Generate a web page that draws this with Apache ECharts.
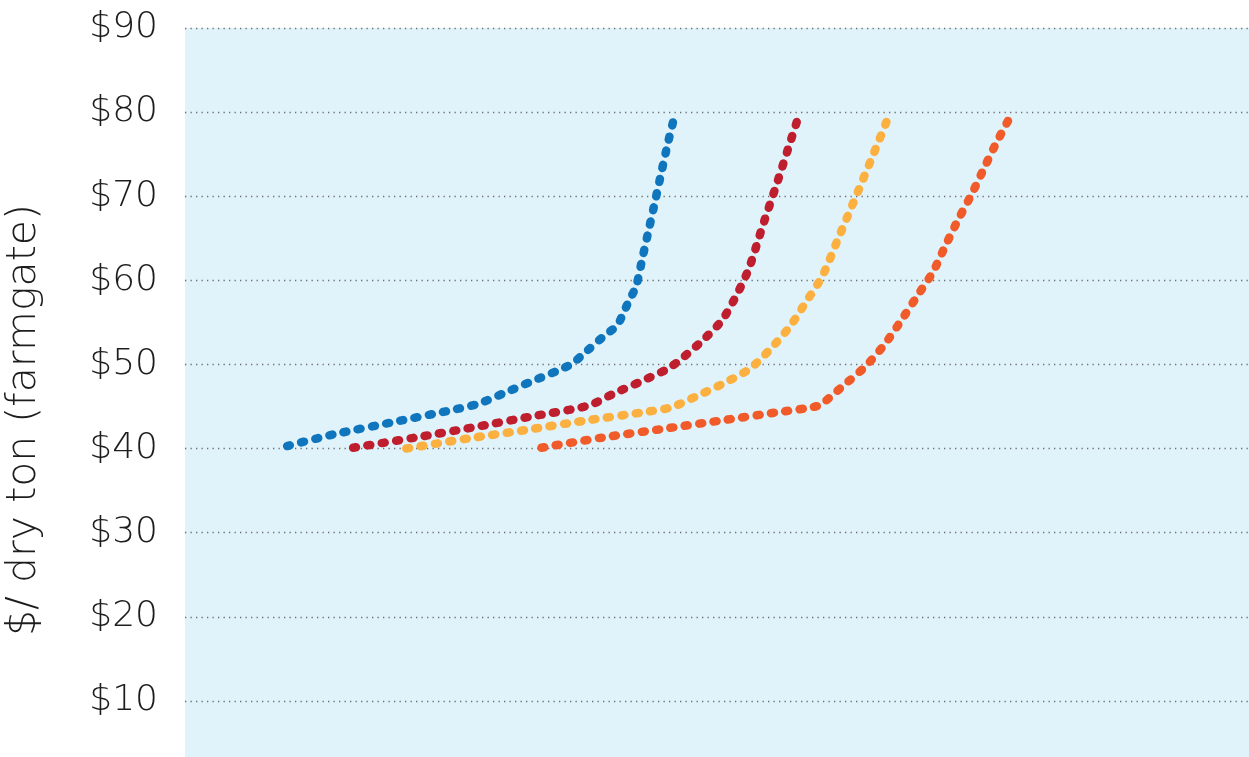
<!DOCTYPE html>
<html>
<head>
<meta charset="utf-8">
<script src="https://cdn.jsdelivr.net/npm/echarts@6/dist/echarts.min.js"></script>
<style>
  html, body { margin: 0; padding: 0; background: #ffffff; }
  #chart { width: 1249px; height: 757px; }
</style>
</head>
<body>
<div id="chart"></div>
<script>
// Supply curves: [quantity (arbitrary units, unlabelled), $/dry ton]
const blueCurve = [
  [9.6, 40.3], [14.0, 41.7], [19.4, 43.1], [24.8, 44.5], [27.5, 45.3], [30.0, 46.6],
  [32.6, 48.0], [35.1, 49.3], [36.4, 50.1], [37.4, 51.2], [39.5, 53.5], [40.6, 54.6],
  [41.2, 56.1], [41.7, 57.5], [42.4, 59.3], [43.0, 62.7], [43.6, 66.1], [44.2, 69.5],
  [44.8, 73.0], [45.4, 76.4], [46.1, 80.0]
];
const redCurve = [
  [15.8, 40.1], [21.6, 41.3], [27.0, 42.5], [32.5, 43.8], [37.9, 45.1], [40.4, 46.6],
  [42.9, 48.0], [45.4, 49.5], [46.5, 50.5], [48.6, 52.8], [50.5, 55.3], [51.9, 58.4],
  [53.0, 61.4], [54.3, 66.5], [55.6, 71.4], [56.9, 76.5], [57.8, 80.0]
];
const yellowCurve = [
  [20.8, 40.0], [26.6, 41.2], [32.0, 42.2], [37.5, 43.3], [43.0, 44.3], [45.7, 44.9],
  [48.2, 46.3], [50.7, 47.8], [53.1, 49.5], [55.0, 51.8], [56.9, 54.6], [58.4, 57.5],
  [59.9, 60.5], [61.5, 65.3], [63.1, 70.1], [64.7, 75.0], [66.3, 80.0]
];
const orangeCurve = [
  [33.5, 40.1], [39.2, 41.3], [44.7, 42.3], [50.2, 43.3], [55.6, 44.3], [58.4, 44.8],
  [59.7, 45.2], [61.8, 47.4], [63.9, 49.7], [65.7, 52.3], [67.3, 55.2], [68.8, 58.1],
  [70.3, 61.0], [71.5, 64.2], [72.7, 67.3], [74.0, 70.4], [75.2, 73.6], [76.4, 76.7],
  [77.8, 80.0]
];
const yAxisName = '$/ dry ton (farmgate)';
const yTickFormat = v => '$' + v;

const colors = ['#0f75bd', '#be1e2d', '#fbb040', '#f15a29'];
const curves = [blueCurve, redCurve, yellowCurve, orangeCurve];

const chart = echarts.init(document.getElementById('chart'), null, { renderer: 'canvas' });
chart.setOption({
  animation: false,
  backgroundColor: '#ffffff',
  grid: {
    left: 185, top: 28, width: 1064, height: 757,
    outerBoundsMode: 'none', containLabel: false,
    show: true, backgroundColor: '#e0f3fa', borderWidth: 0
  },
  xAxis: {
    type: 'value', min: 0, max: 100,
    axisLine: { show: false }, axisTick: { show: false },
    axisLabel: { show: false }, splitLine: { show: false }
  },
  yAxis: {
    type: 'value', min: 0, max: 90, interval: 10,
    name: yAxisName,
    nameLocation: 'middle',
    nameGap: 140,
    nameTextStyle: {
      fontFamily: 'DejaVu Sans', fontWeight: 300, fontSize: 41, color: '#1f1c1d',
      padding: [0, 27, 0, 0]
    },
    axisLine: { show: false }, axisTick: { show: false },
    axisLabel: {
      formatter: yTickFormat, margin: 27,
      fontFamily: 'DejaVu Sans', fontWeight: 300, fontSize: 36, color: '#1f1c1d'
    },
    splitLine: {
      show: true,
      lineStyle: { color: '#6d6e71', width: 1.3, type: [1.3, 4.2] }
    }
  },
  series: curves.map((d, i) => ({
    type: 'line',
    data: d,
    showSymbol: false,
    smooth: 0.25,
    lineStyle: { color: colors[i], width: 8.5, type: [3, 11.5], cap: 'round' }
  }))
});
</script>
</body>
</html>
